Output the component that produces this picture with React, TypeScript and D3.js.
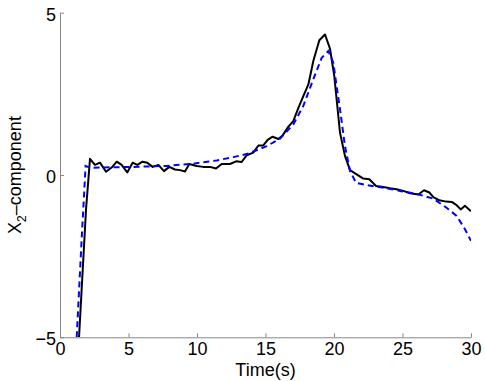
import React, { useRef, useEffect } from "react";
import { select, scaleLinear, line, axisBottom, axisLeft } from "d3";

// measured trajectory (solid black)
const measuredTime = [1.39, 1.9, 2.19, 2.55, 2.92, 3.36, 3.77, 4.14, 4.5, 4.91, 5.3, 5.64, 6.03, 6.37, 6.76, 7.18, 7.59, 7.98, 8.39, 8.76, 9.12, 9.44, 9.98, 10.46, 10.95, 11.39, 11.8, 12.41, 12.85, 13.26, 13.63, 14.11, 14.48, 14.84, 15.16, 15.52, 15.94, 16.25, 16.67, 17.03, 17.4, 17.76, 18.13, 18.49, 18.93, 19.34, 19.71, 20.02, 20.44, 20.8, 21.17, 21.65, 22.14, 22.58, 23.07, 23.6, 24.09, 24.57, 25.06, 25.55, 26.16, 26.57, 26.96, 27.25, 27.69, 28.18, 28.59, 28.95, 29.25, 29.56, 30];
const measuredX2 = [-5.0, -1.06, 0.5, 0.31, 0.38, 0.1, 0.23, 0.41, 0.31, 0.08, 0.38, 0.31, 0.41, 0.38, 0.25, 0.31, 0.12, 0.25, 0.17, 0.15, 0.11, 0.34, 0.28, 0.25, 0.25, 0.2, 0.34, 0.34, 0.42, 0.4, 0.61, 0.69, 0.91, 0.91, 1.08, 1.18, 1.11, 1.22, 1.49, 1.66, 2.07, 2.43, 2.79, 3.51, 4.15, 4.33, 3.89, 3.05, 1.3, 0.59, 0.15, 0.02, -0.11, -0.13, -0.34, -0.37, -0.41, -0.44, -0.49, -0.56, -0.6, -0.47, -0.54, -0.68, -0.78, -0.82, -0.83, -0.93, -1.06, -0.95, -1.12];

// estimated trajectory (dashed blue)
const estimateTime = [1.22, 1.58, 1.87, 2.19, 2.92, 5.35, 7.79, 9.73, 11.44, 12.65, 13.75, 15.09, 16.06, 17.03, 17.76, 18.49, 19.1, 19.59, 19.95, 20.19, 20.44, 20.8, 21.17, 21.61, 22.39, 23.6, 24.82, 26.03, 27.25, 28.22, 28.95, 29.56, 30];
const estimateX2 = [-5.0, -1.98, 0.28, 0.22, 0.23, 0.25, 0.28, 0.35, 0.45, 0.55, 0.66, 0.89, 1.12, 1.56, 2.13, 2.95, 3.61, 3.82, 3.46, 2.74, 2.02, 0.89, 0.12, -0.24, -0.31, -0.39, -0.49, -0.58, -0.73, -1.01, -1.26, -1.67, -2.03];

const xTicks = [0, 5, 10, 15, 20, 25, 30];
const yTicks = [-5, 0, 5];

const W = 485;
const H = 381;
const margin = { left: 60, right: 14, top: 12.7, bottom: 43.7 };
const font = "'Liberation Sans', Arial, sans-serif";

function App() {
  const svgRef = useRef<SVGSVGElement>(null);

  useEffect(() => {
    const svg = select(svgRef.current);
    svg.selectAll("*").remove();

    const x = scaleLinear().domain([0, 30]).range([margin.left, W - margin.right]);
    const y = scaleLinear().domain([-5, 5]).range([H - margin.bottom, margin.top]);

    svg
      .append("clipPath")
      .attr("id", "plotclip")
      .append("rect")
      .attr("x", x(0))
      .attr("y", y(5))
      .attr("width", x(30) - x(0))
      .attr("height", y(-5) - y(5));

    // x axis
    const gx = svg
      .append("g")
      .attr("transform", `translate(0,${y(-5)})`)
      .call(axisBottom(x).tickValues(xTicks).tickSizeInner(-4).tickSizeOuter(0));
    gx.select(".domain").attr("stroke", "#888");
    gx.selectAll(".tick line").attr("stroke", "#888");
    gx.selectAll(".tick text")
      .attr("fill", "#000")
      .attr("font-size", 18)
      .attr("font-family", font)
      .attr("y", 18)
      .attr("dy", 0);

    // y axis
    const gy = svg
      .append("g")
      .attr("transform", `translate(${x(0)},0)`)
      .call(axisLeft(y).tickValues(yTicks).tickSizeInner(-4).tickSizeOuter(0).tickFormat((d) => (d < 0 ? "\u2212" + Math.abs(d) : String(d))));
    gy.select(".domain").attr("stroke", "#888");
    gy.selectAll(".tick line").attr("stroke", "#888");
    gy.selectAll(".tick text")
      .attr("fill", "#000")
      .attr("font-size", 18)
      .attr("font-family", font)
      .attr("x", -4)
      .attr("dy", 7.5);

    const lineGen = line<[number, number]>()
      .x((d) => x(d[0]))
      .y((d) => y(d[1]));

    const measured = measuredTime.map((t, i) => [t, measuredX2[i]] as [number, number]);
    const estimate = estimateTime.map((t, i) => [t, estimateX2[i]] as [number, number]);

    svg
      .append("path")
      .datum(measured)
      .attr("clip-path", "url(#plotclip)")
      .attr("fill", "none")
      .attr("stroke", "#000")
      .attr("stroke-width", 2)
      .attr("stroke-linejoin", "round")
      .attr("d", lineGen);

    svg
      .append("path")
      .datum(estimate)
      .attr("clip-path", "url(#plotclip)")
      .attr("fill", "none")
      .attr("stroke", "#0000ff")
      .attr("stroke-width", 2)
      .attr("stroke-dasharray", "6,4")
      .attr("d", lineGen);

    // labels
    svg
      .append("text")
      .attr("x", (x(0) + x(30)) / 2)
      .attr("y", 376)
      .attr("text-anchor", "middle")
      .attr("font-size", 18)
      .attr("font-family", font)
      .text("Time(s)");

    const yl = svg
      .append("text")
      .attr("transform", `translate(20.5,${(y(-5) + y(5)) / 2}) rotate(-90)`)
      .attr("text-anchor", "middle")
      .attr("font-size", 18)
      .attr("font-family", font);
    yl.append("tspan").text("X");
    yl.append("tspan").attr("font-size", 12).attr("dy", 5).text("2");
    yl.append("tspan").attr("dy", -5).text("\u2013component");
  }, []);

  return (
    <svg
      ref={svgRef}
      width={W}
      height={H}
      style={{ position: "absolute", left: 0, top: 0, background: "#fff" }}
    />
  );
}

export default App;
